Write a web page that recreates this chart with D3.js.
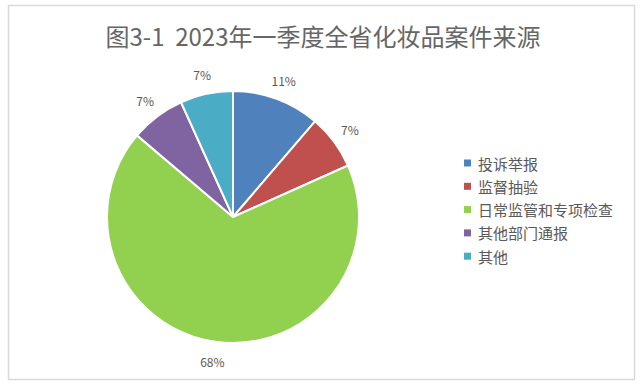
<!DOCTYPE html>
<html><head><meta charset="utf-8">
<script src="https://cdn.jsdelivr.net/npm/d3@7"></script>
<style>html,body{margin:0;padding:0;background:#fff;}svg{display:block;}</style>
</head><body><div id="chart"></div>
<script>
const categories = ["投诉举报", "监督抽验", "日常监管和专项检查", "其他部门通报", "其他"];
const values = [45, 28, 271, 28, 27];
const colors = ["#4F81BD", "#C0504D", "#92D050", "#8064A2", "#4BACC6"];
const title = "图3-1  2023年一季度全省化妆品案件来源";

const W = 642, H = 390;
const font = "'Noto Sans CJK SC', 'Noto Sans', sans-serif";
const svg = d3.select("#chart").append("svg").attr("width", W).attr("height", H);

svg.append("rect").attr("x", 8.5).attr("y", 5.5).attr("width", 626).attr("height", 374)
  .attr("fill", "#fff").attr("stroke", "#d9d9d9").attr("stroke-width", 1.5);

svg.append("text").attr("x", 323).attr("y", 46).attr("text-anchor", "middle")
  .style("white-space", "pre")
  .attr("font-family", font).attr("font-size", 24).attr("fill", "#666666").text(title);

const cx = 233, cy = 217, R = 126;
const total = d3.sum(values);
const pie = d3.pie().sort(null).value(d => d.v);
const data = pie(categories.map((c, i) => ({c, v: values[i], col: colors[i]})));
const arc = d3.arc().innerRadius(0).outerRadius(R);
const g = svg.append("g").attr("transform", `translate(${cx},${cy})`);
g.selectAll("path").data(data).join("path")
  .attr("d", arc).attr("fill", d => d.data.col)
  .attr("stroke", "#fff").attr("stroke-width", 2).attr("stroke-linejoin", "round");

const labelArc = d3.arc().innerRadius(146).outerRadius(146);
g.selectAll("text.lbl").data(data).join("text").attr("class", "lbl")
  .attr("transform", d => { const [x, y] = labelArc.centroid(d); return `translate(${x},${y})`; })
  .attr("text-anchor", "middle").attr("dominant-baseline", "central")
  .attr("font-family", font).attr("font-size", 12).attr("fill", "#595959")
  .text(d => Math.round(d.data.v / total * 100) + "%");

const lg = svg.append("g").attr("transform", "translate(464,163)");
const rows = lg.selectAll("g").data(categories).join("g")
  .attr("transform", (d, i) => `translate(0,${i * 23.3})`);
rows.append("rect").attr("x", 0).attr("y", -3.5).attr("width", 7).attr("height", 7)
  .attr("fill", (d, i) => colors[i]);
rows.append("text").attr("x", 14).attr("y", 0).attr("dominant-baseline", "central")
  .attr("font-family", font).attr("font-size", 15).attr("fill", "#595959").text(d => d);
</script></body></html>
